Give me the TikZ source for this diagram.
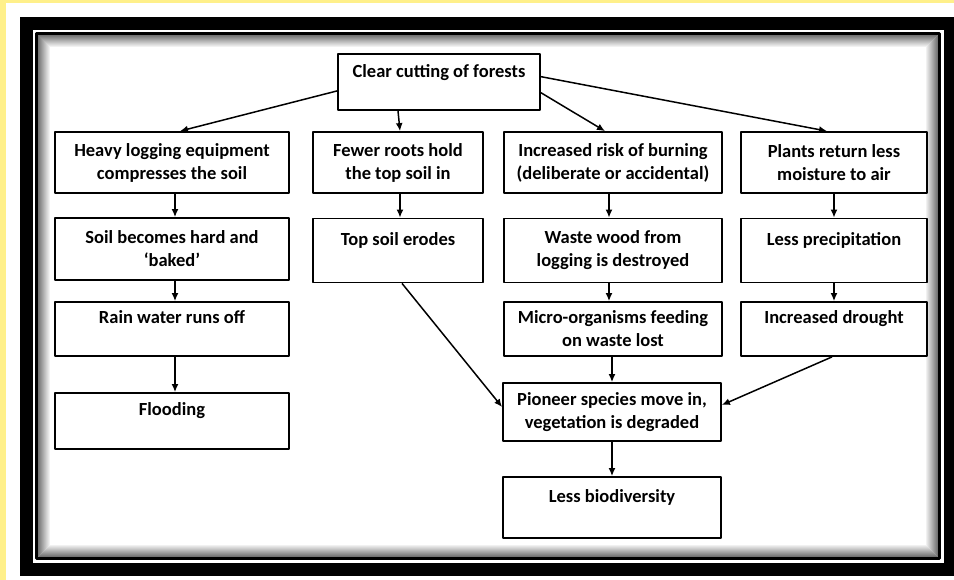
\documentclass[tikz,border=0pt]{standalone}
\usepackage{fontspec}
\setmainfont{Carlito}
\usepackage{tikz}
\usetikzlibrary{arrows.meta,calc}
\usetikzlibrary{positioning}
\definecolor{pageyellow}{RGB}{255,240,138}
\tikzset{blk/.style={draw,line width=1.8pt,align=center,inner sep=0pt,minimum height=58pt,font=\bfseries\fontsize{18.5}{23}\selectfont}}

\begin{document}
\begin{tikzpicture}[x=1pt,y=-1pt,>={Latex[length=8pt,width=7pt]},line join=round]
\useasboundingbox (0,0) rectangle (954,580);
% --- frame
\fill[pageyellow] (0,0) rectangle (954,580);
\fill[white] (6,3) rectangle (956,582);
\fill[black] (20,17) rectangle (956,576);
\fill[white] (33,30) rectangle (944,563);
\draw[line width=2.6pt] (36.5,33.5) rectangle (939.5,558.5);
\foreach \i in {0,...,11}
  \draw[black,opacity=0.55-0.045*\i,line width=1pt] (38.5+\i,35.5+\i) rectangle (937.5-\i,556.5-\i);

% --- top
\node[blk,minimum width=202pt,minimum height=56pt] (clear) at (439,82) {Clear cutting of forests\\\mbox{}};

% --- columns
\node[blk,minimum width=234pt,minimum height=61pt] (heavy) at (172,162.5) {Heavy logging equipment\\compresses the soil};
\node[blk,minimum width=234pt,minimum height=62pt] (soil) at (172,249) {Soil becomes hard and\\`baked'};
\node[blk,minimum width=234pt,minimum height=54pt] (rain) at (172,329) {Rain water runs off\\\mbox{}};
\node[blk,minimum width=234pt,minimum height=56pt] (flood) at (172,421) {Flooding\\\mbox{}};

\node[blk,minimum width=170pt,minimum height=61pt] (fewer) at (398,162.5) {Fewer roots hold\\the top soil in};
\node[blk,minimum width=170pt,minimum height=64pt] (erode) at (398,250.5) {Top soil erodes\\\mbox{}};

\node[blk,minimum width=218pt,minimum height=61pt] (risk) at (613,162.5) {Increased risk of burning\\(deliberate or accidental)};
\node[blk,minimum width=218pt,minimum height=64pt] (waste) at (613,250.5) {Waste wood from\\logging is destroyed};
\node[blk,minimum width=218pt,minimum height=54pt] (micro) at (613,329) {Micro-organisms feeding\\on waste lost};

\node[blk,minimum width=186pt,minimum height=61pt] (plants) at (834,162.5) {Plants return less\\moisture to air};
\node[blk,minimum width=186pt,minimum height=64pt] (precip) at (834,250.5) {Less precipitation\\\mbox{}};
\node[blk,minimum width=186pt,minimum height=54pt] (drought) at (834,329) {Increased drought\\\mbox{}};

% --- bottom
\node[blk,minimum width=218pt,minimum height=58pt] (pioneer) at (612,412) {Pioneer species move in,\\vegetation is degraded};
\node[blk,minimum width=218pt,minimum height=61pt] (bio) at (612,507.5) {Less biodiversity\\\mbox{}};

\begin{scope}[line width=1.5pt]
\draw[->] (clear.185) -- ([xshift=8pt]heavy.north);
\draw[->] (fewer.north |- clear.south) -- ([xshift=2pt]fewer.north);
\draw[->] (clear.-6) -- ([xshift=-8pt]risk.north);
\draw[->] (clear.3) -- ([xshift=-7pt]plants.north);
\draw[->] ([xshift=3pt]heavy.south) -- ([xshift=3pt]soil.north);
\draw[->] ([xshift=3pt]soil.south) -- ([xshift=3pt]rain.north);
\draw[->] ([xshift=3pt]rain.south) -- ([xshift=3pt]flood.north);
\draw[->] ([xshift=2pt]fewer.south) -- ([xshift=2pt]erode.north);
\draw[->] ([xshift=-4pt]risk.south) -- ([xshift=-4pt]waste.north);
\draw[->] ([xshift=-4pt]waste.south) -- ([xshift=-4pt]micro.north);
\draw[->] (micro.south -| pioneer.north) -- (pioneer.north);
\draw[->] (plants.south) -- (precip.south |- precip.north);
\draw[->] (precip.south) -- (drought.north);
\draw[->] ([xshift=4pt]erode.south) -- ([yshift=5pt]pioneer.west);
\draw[->] ([xshift=-2pt]drought.south) -- ([yshift=7pt]pioneer.east);
\draw[->] (pioneer.south) -- (bio.north);
\end{scope}
\end{tikzpicture}
\end{document}
